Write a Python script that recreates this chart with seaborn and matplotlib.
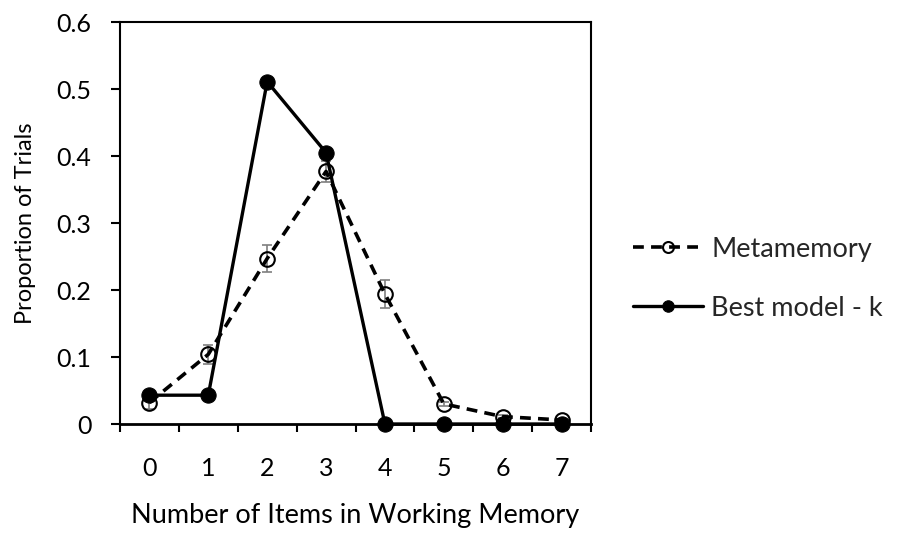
import numpy as np
import pandas as pd
import matplotlib
matplotlib.use("Agg")
import matplotlib.pyplot as plt
import seaborn as sns
from matplotlib.ticker import FixedLocator, NullFormatter

items = [0, 1, 2, 3, 4, 5, 6, 7]
metamemory = [0.032, 0.104, 0.247, 0.377, 0.194, 0.030, 0.011, 0.006]
metamemory_err = [0.009, 0.014, 0.020, 0.016, 0.021, 0.003, 0.002, 0.002]
best_model = [0.043, 0.043, 0.511, 0.405, 0.0, 0.0, 0.0, 0.0]
yticks = [0, 0.1, 0.2, 0.3, 0.4, 0.5, 0.6]
ytick_labels = ["0", "0.1", "0.2", "0.3", "0.4", "0.5", "0.6"]

sns.set_theme(style="white")
plt.rcParams['font.family'] = ['Lato', 'DejaVu Sans']

fig = plt.figure(figsize=(9, 5.33), dpi=100)
ax = fig.add_axes([0.1333, 0.2045, 0.5234, 0.7542])

df = pd.DataFrame({"items": items, "Metamemory": metamemory, "Best model - k": best_model})

ax.errorbar(items, metamemory, yerr=metamemory_err, fmt='none', ecolor='#7f7f7f',
            elinewidth=1.2, capsize=3.8, capthick=1.2, zorder=2, clip_on=False)
sns.lineplot(data=df, x="items", y="Metamemory", ax=ax, color='black', linestyle=(0, (3, 2)),
             linewidth=2.6, marker='o', markersize=10.5, markerfacecolor='none',
             markeredgecolor='black', markeredgewidth=1.5, label='Metamemory',
             clip_on=False, zorder=3)
sns.lineplot(data=df, x="items", y="Best model - k", ax=ax, color='black', linestyle='-',
             linewidth=2.4, marker='o', markersize=11, markerfacecolor='black',
             markeredgecolor='black', label='Best model - k', clip_on=False, zorder=4)

ax.set_xlim(-0.5, 7.5)
ax.set_ylim(0, 0.6)
ax.set_xticks(items)
ax.set_xticklabels([str(i) for i in items])
ax.xaxis.set_minor_locator(FixedLocator(np.arange(-0.5, 7.6, 1.0)))
ax.xaxis.set_minor_formatter(NullFormatter())
ax.tick_params(axis='x', which='major', length=0, pad=24, labelsize=18, labelcolor='black')
ax.tick_params(axis='x', which='minor', length=5.5, width=1.5, direction='out', bottom=True, color='black')
ax.set_yticks(yticks)
ax.set_yticklabels(ytick_labels)
ax.tick_params(axis='y', which='major', length=6.5, width=1.5, direction='out', left=True,
               labelsize=18, pad=14, color='black', labelcolor='black')

for s in ax.spines.values():
    s.set_visible(True)
    s.set_color('black')
    s.set_linewidth(1.5)
ax.spines['bottom'].set_linewidth(2)

ax.set_xlabel("Number of Items in Working Memory", fontsize=19.5, labelpad=16, color='black')
ax.set_ylabel("Proportion of Trials", fontsize=17, labelpad=15, color='black')

leg = ax.legend(loc='center left', bbox_to_anchor=(1.089, 0.361), frameon=False,
                fontsize=19.5, handlelength=2.6, handletextpad=0.3, labelspacing=1.25,
                borderpad=0, borderaxespad=0, markerscale=0.75)

fig.savefig("out.png", dpi=100, facecolor='white')
